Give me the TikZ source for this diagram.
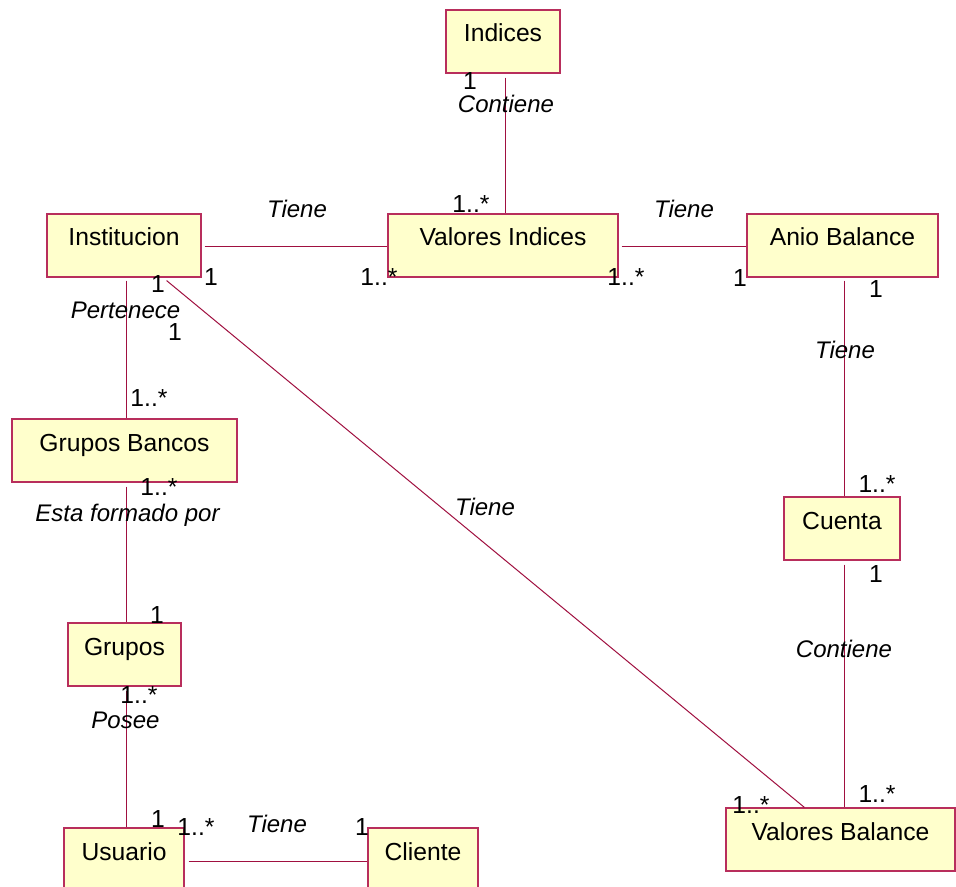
\documentclass[tikz,border=0pt]{standalone}
\usepackage{fontspec}
\setmainfont{Liberation Sans}
\usetikzlibrary{calc}
\definecolor{classfill}{RGB}{255,255,204}
\definecolor{classedge}{RGB}{184,46,92}
\definecolor{assocline}{RGB}{160,16,64}
\tikzset{
  classbox/.style={draw=classedge, line width=0.9pt, fill=classfill,
    inner xsep=0pt, inner ysep=0pt, text height=24pt, text depth=23.25pt,
    minimum height=47.25pt, font=\fontsize{18.5}{22}\selectfont},
  assoc/.style={draw=assocline, line width=0.75pt},
  rolename/.style={anchor=base, inner sep=0pt, font=\fontsize{18}{21}\selectfont\itshape},
  mult/.style={anchor=base, inner sep=0pt, font=\fontsize{18.5}{21}\selectfont}
}
\begin{document}
\begin{tikzpicture}[x=0.75pt, y=-0.75pt]
\useasboundingbox (0,0) rectangle (956,887);
\clip (0,0) rectangle (956,887);
\fill[white] (0,0) rectangle (956,887);

% classes
\node[classbox, minimum width=85.5pt]  (ind)  at (503,41.5)   {Indices};
\node[classbox, minimum width=115.5pt] (inst) at (124,245.5)  {Institucion};
\node[classbox, minimum width=172.5pt] (vi)   at (503,245.5)  {Valores Indices};
\node[classbox, minimum width=143.25pt](ab)   at (842.5,245.5){Anio Balance};
\node[classbox, minimum width=168.75pt](gb)   at (124.5,450.5){Grupos Bancos};
\node[classbox, minimum width=84.75pt] (gr)   at (124.5,654.5){Grupos};
\node[classbox, minimum width=90pt]    (us)   at (124,859.5)  {Usuario};
\node[classbox, minimum width=82.5pt]  (cl)   at (423,859.5)  {Cliente};
\node[classbox, minimum width=87pt]    (cu)   at (842,528.5)  {Cuenta};
\node[classbox, minimum width=171.75pt](vb)   at (840.5,839.5){Valores Balance};

% associations
\draw[assoc] ($(ind.south)+(2,4)$) -- ($(ind.south |- vi.north)+(2,0)$);
\draw[assoc] ($(inst.east)+(3,1.5)$) -- ($(vi.west)+(0,1.5)$);
\draw[assoc] ($(vi.east)+(3,1.5)$) -- ($(ab.west)+(0,1.5)$);
\draw[assoc] ($(inst.south)+(2,3)$) -- ($(inst.south |- gb.north)+(2,0)$);
\draw[assoc] ($(gb.south)+(1.5,4)$) -- ($(gb.south |- gr.north)+(1.5,0)$);
\draw[assoc] ($(gr.south)+(1.5,4)$) -- ($(gr.south |- us.north)+(1.5,0)$);
\draw[assoc] ($(us.east)+(4,1.5)$) -- ($(cl.west)+(0,1.5)$);
\draw[assoc] ($(inst.south east)+(-35,3)$) -- ($(vb.north west)+(79,0)$);
\draw[assoc] ($(ab.south)+(1.5,3)$) -- ($(ab.south |- cu.north)+(1.5,0)$);
\draw[assoc] ($(cu.south)+(2,4)$) -- ($(cu.south |- vb.north)+(2,0)$);

% association names
\node[rolename] (n1)  at (506,113) {Contiene};
\node[rolename] (n2)  at (297,218) {Tiene};
\node[rolename] (n3)  at (684,218) {Tiene};
\node[rolename] (n4)  at (125.5,319) {Pertenece};
\node[rolename] (n5)  at (845,359) {Tiene};
\node[rolename] (n6)  at (485,515) {Tiene};
\node[rolename] (n7)  at (127.5,521) {Esta formado por};
\node[rolename] (n8)  at (844,657) {Contiene};
\node[rolename] (n9)  at (125.5,728) {Posee};
\node[rolename] (n10) at (277,832) {Tiene};

% multiplicities
\node[mult] (m1)  at (470,90)  {1};
\node[mult] (m2)  at (471,213) {1..*};
\node[mult] (m3)  at (211,286) {1};
\node[mult] (m4)  at (379,286) {1..*};
\node[mult] (m5)  at (626,286) {1..*};
\node[mult] (m6)  at (740,287) {1};
\node[mult] (m7)  at (158,293) {1};
\node[mult] (m8)  at (876,298) {1};
\node[mult] (m9)  at (175,341) {1};
\node[mult] (m10) at (149,407) {1..*};
\node[mult] (m11) at (877,492) {1..*};
\node[mult] (m12) at (159,495) {1..*};
\node[mult] (m13) at (876,582) {1};
\node[mult] (m14) at (157,623) {1};
\node[mult] (m15) at (139,703) {1..*};
\node[mult] (m16) at (877,802) {1..*};
\node[mult] (m17) at (751,813) {1..*};
\node[mult] (m18) at (158,827) {1};
\node[mult] (m19) at (196,835) {1..*};
\node[mult] (m20) at (362,835) {1};
\end{tikzpicture}
\end{document}
